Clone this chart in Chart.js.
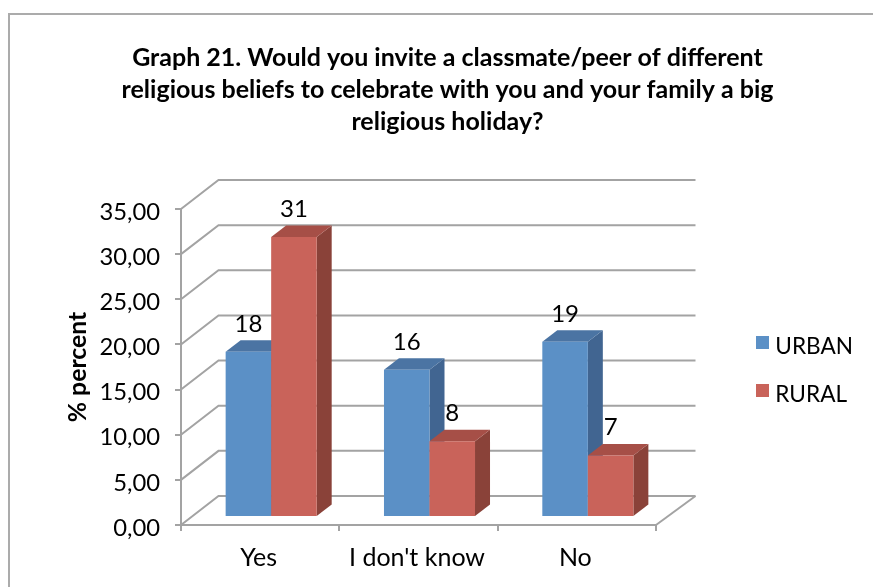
<!DOCTYPE html>
<html><head><meta charset="utf-8">
<style>html,body{margin:0;padding:0;background:#fff}canvas{display:block}</style>
<script src="https://cdn.jsdelivr.net/npm/chart.js@4/dist/chart.umd.min.js"></script>
</head><body><canvas id="c" width="873" height="587"></canvas>
<script>
const titleLines = ["Graph 21. Would you invite a classmate/peer of different","religious beliefs to celebrate with you and your family a big","religious holiday?"];
const categories = ["Yes","I don't know","No"];
const urban = [18.3,16.3,19.4];
const rural = [31,8.4,6.8];
const seriesNames = ["URBAN","RURAL"];
const yTickStep = 5;
const yMax = 35;
const yAxisTitle = "% percent";

const FONT = "Lato";
const GRID = "#a3a3a3";
const WALL = {dx:37.5, dy:-29};
const BAR = {dx:11, dy:-8, depthX:15, depthY:-11.5};
const faces = [{top:"#4b74a3",side:"#416591"},{top:"#a64f47",side:"#8a4239"}];
const fills = ["#5b90c6","#c9635a"];

function swatch(color){
  const c=document.createElement('canvas');c.width=13;c.height=21;
  const g=c.getContext('2d');g.fillStyle=color;g.fillRect(0,0,13,13);return c;
}

const scene = {
  id:'scene',
  afterLayout(chart){
    chart.titleBlock.left=0; chart.titleBlock.right=895;
    const l=chart.legend; const w=l.width,h=l.height;
    l.left=735.6; l.right=l.left+w; l.top=309.8; l.bottom=l.top+h;
  },
  beforeDraw(chart){
    const c=chart.ctx;
    c.save();c.strokeStyle="#ababab";c.lineWidth=2;
    c.beginPath();c.moveTo(9,587);c.lineTo(9,14);c.lineTo(873,14);c.stroke();c.restore();
  },
  beforeDatasetsDraw(chart){
    const c=chart.ctx,{x,y}=chart.scales;
    const L=x.left,R=x.right;
    c.save();c.strokeStyle=GRID;c.lineWidth=2;c.lineJoin='miter';
    y.ticks.forEach(t=>{
      const p=y.getPixelForValue(t.value);
      c.beginPath();c.moveTo(L,p);c.lineTo(L+WALL.dx,p+WALL.dy);c.lineTo(R+WALL.dx+2,p+WALL.dy);c.stroke();
    });
    const b=y.getPixelForValue(0);
    c.beginPath();c.moveTo(R,b);c.lineTo(R+WALL.dx+2,b+WALL.dy);c.stroke();
    c.restore();
    chart.getSortedVisibleDatasetMetas().slice().sort((a,b)=>a.index-b.index).forEach(meta=>{
      c.save();c.translate(BAR.dx,BAR.dy);
      meta.data.forEach(bar=>{
        const x0=bar.x-bar.width/2,x1=bar.x+bar.width/2,top=bar.y,base=bar.base;
        c.fillStyle=faces[meta.index].side;
        c.beginPath();c.moveTo(x1,top);c.lineTo(x1+BAR.depthX,top+BAR.depthY);c.lineTo(x1+BAR.depthX,base+BAR.depthY);c.lineTo(x1,base);c.closePath();c.fill();
        c.fillStyle=faces[meta.index].top;
        c.beginPath();c.moveTo(x0,top);c.lineTo(x1,top);c.lineTo(x1+BAR.depthX,top+BAR.depthY);c.lineTo(x0+BAR.depthX,top+BAR.depthY);c.closePath();c.fill();
      });
      meta.controller.draw();
      c.restore();
    });
    c.save();c.fillStyle="#000";c.font="24px "+FONT;c.textAlign="center";c.textBaseline="middle";
    chart.getSortedVisibleDatasetMetas().forEach(meta=>{
      const vals=chart.data.datasets[meta.index].data;
      meta.data.forEach((bar,i)=>{
        c.fillText(String(Math.round(vals[i])),bar.x+BAR.dx,bar.y+BAR.dy-28);
      });
    });
    c.restore();
    return false;
  }
};

new Chart(document.getElementById('c'),{
  type:'bar',
  data:{labels:categories,datasets:[
    {label:seriesNames[0],data:urban,backgroundColor:fills[0],borderWidth:0},
    {label:seriesNames[1],data:rural,backgroundColor:fills[1],borderWidth:0}
  ]},
  plugins:[scene],
  options:{
    responsive:false,animation:false,
    layout:{padding:{left:22,right:217,top:0,bottom:0}},
    datasets:{bar:{categoryPercentage:0.575,barPercentage:1}},
    plugins:{
      tooltip:{enabled:false},
      title:{display:true,text:titleLines,color:"#000",
        font:{family:FONT,size:25,weight:'bold',lineHeight:1.28},
        padding:{top:42,bottom:71}},
      legend:{display:true,position:'chartArea',align:'start',
        labels:{color:"#000",font:{family:FONT,size:22.6},boxWidth:3,boxHeight:13,usePointStyle:true,pointStyleWidth:3,padding:25.4,
          generateLabels(chart){
            const items=Chart.defaults.plugins.legend.labels.generateLabels(chart);
            items.forEach((it,i)=>{it.pointStyle=swatch(fills[i]);});
            return items;
          }}}
    },
    scales:{
      x:{afterFit(s){s.height=62;},
        grid:{drawOnChartArea:false,color:GRID,lineWidth:2,tickLength:6},
        border:{color:GRID,width:2},
        ticks:{color:"#000",font:{family:FONT,size:25},padding:12,labelOffset:-1.5,maxRotation:0}},
      y:{min:0,max:yMax,afterFit(s){s.width=159;},
        grid:{drawOnChartArea:false,color:GRID,lineWidth:2,tickLength:6},
        border:{color:GRID,width:2},
        title:{display:true,text:yAxisTitle,color:"#000",font:{family:FONT,size:24.8,weight:'bold'},padding:{top:41}},
        ticks:{stepSize:yTickStep,color:"#000",font:{family:FONT,size:23.8},padding:15,labelOffset:3,
          callback:v=>v.toFixed(2).replace('.',',')}}
    }
  }
});
</script></body></html>
